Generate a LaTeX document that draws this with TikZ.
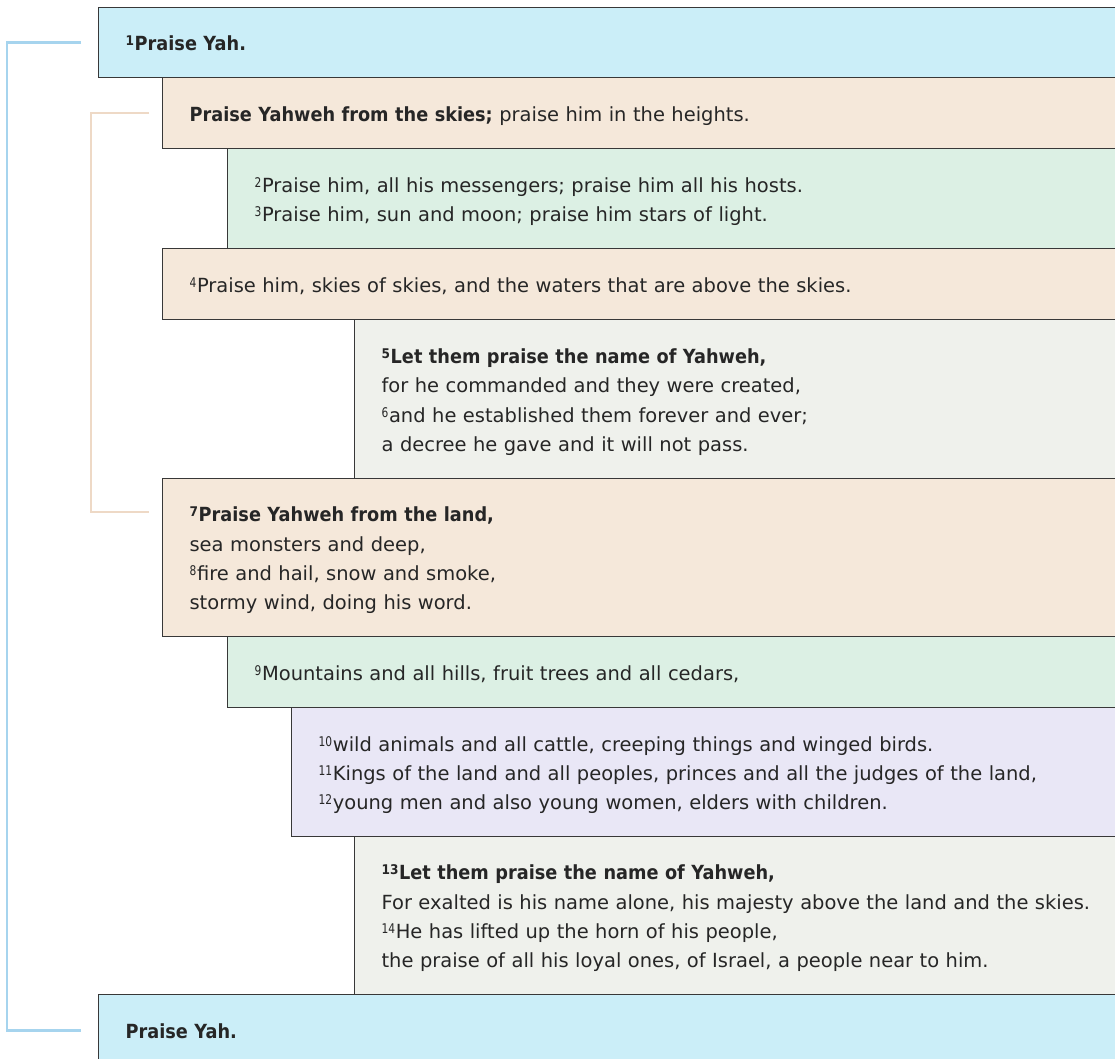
\documentclass[tikz,border=0pt]{standalone}
\usepackage{fontspec}
\setmainfont{DejaVu Sans}[BoldFeatures={FakeStretch=0.91}]
\definecolor{cblue}{HTML}{CBEEF8}
\definecolor{cpeach}{HTML}{F5E8DA}
\definecolor{cgreen}{HTML}{DCF0E4}
\definecolor{cgray}{HTML}{EFF1EC}
\definecolor{cpurple}{HTML}{E9E7F6}
\definecolor{brblue}{HTML}{A6D4EE}
\definecolor{brpeach}{HTML}{EED9C6}
\definecolor{edge}{HTML}{383838}
\definecolor{ink}{HTML}{262626}
\newcommand\vn[1]{\raisebox{3.7pt}{\fontsize{10pt}{10pt}\selectfont\addfontfeature{FakeStretch=0.8}#1}\kern0.5pt}
\newcommand\topstrut{\rule[-6.6pt]{0pt}{25.6pt}}
\begin{document}
\begin{tikzpicture}[x=0.75pt,y=-0.75pt,
  pbox/.style={draw=edge, line width=0.9pt, rectangle, anchor=north west,
    inner xsep=20.25pt, inner ysep=0pt, align=left, text=ink,
    font=\fontsize{14.6pt}{22pt}\selectfont},
  wA/.style={text width=733.5pt},
  wB/.style={text width=685.5pt},
  wC/.style={text width=636.75pt},
  wD/.style={text width=541.5pt},
  wE/.style={text width=588.75pt},
  bracketblue/.style={draw=brblue, line width=2.1pt},
  bracketpeach/.style={draw=brpeach, line width=2.1pt}]
\fill[white] (0,0) rectangle (1115,1059);
\clip (0,0) rectangle (1115,1059);
\node[pbox, wA, fill=cblue, minimum height=52.5pt] (b1) at (98,7)
  {\topstrut\textbf{\vn{1}Praise Yah.}};
\node[pbox, wB, fill=cpeach, minimum height=53.25pt] (b2) at (162,77)
  {\topstrut\textbf{Praise Yahweh from the skies;} praise him in the heights.};
\node[pbox, wC, fill=cgreen, minimum height=75pt] (b3) at (227,148)
  {\topstrut\vn{2}Praise him, all his messengers; praise him all his hosts.\\
   \vn{3}Praise him, sun and moon; praise him stars of light.\strut};
\node[pbox, wB, fill=cpeach, minimum height=53.25pt] (b4) at (162,248)
  {\topstrut\vn{4}Praise him, skies of skies, and the waters that are above the skies.};
\node[pbox, wD, fill=cgray, minimum height=119.25pt] (b5) at (354,319)
  {\topstrut\textbf{\vn{5}Let them praise the name of Yahweh,}\\
   for he commanded and they were created,\\
   \vn{6}and he established them forever and ever;\\
   a decree he gave and it will not pass.\strut};
\node[pbox, wB, fill=cpeach, minimum height=118.5pt] (b7) at (162,478)
  {\topstrut\textbf{\vn{7}Praise Yahweh from the land,}\\
   sea monsters and deep,\\
   \vn{8}fire and hail, snow and smoke,\\
   stormy wind, doing his word.\strut};
\node[pbox, wC, fill=cgreen, minimum height=53.25pt] (b9) at (227,636)
  {\topstrut\vn{9}Mountains and all hills, fruit trees and all cedars,};
\node[pbox, wE, fill=cpurple, minimum height=96.75pt] (b10) at (291,707)
  {\topstrut\vn{10}wild animals and all cattle, creeping things and winged birds.\\
   \vn{11}Kings of the land and all peoples, princes and all the judges of the land,\\
   \vn{12}young men and also young women, elders with children.\strut};
\node[pbox, wD, fill=cgray, minimum height=118.5pt] (b13) at (354,836)
  {\topstrut\textbf{\vn{13}Let them praise the name of Yahweh,}\\
   For exalted is his name alone, his majesty above the land and the skies.\\
   \vn{14}He has lifted up the horn of his people,\\
   the praise of all his loyal ones, of Israel, a people near to him.\strut};
\node[pbox, wA, fill=cblue, minimum height=54pt] (b14) at (98,994)
  {\topstrut\textbf{Praise Yah.}};
\coordinate (b7first) at ([xshift=-9.75pt, yshift=-25.5pt]b7.north west);
\draw[bracketblue] ([xshift=-12.75pt]b1.west) -- ++(-74,0) |- ([xshift=-12.75pt]b14.west);
\draw[bracketpeach] ([xshift=-9.75pt]b2.west) -- ++(-58,0) |- (b7first);
\end{tikzpicture}
\end{document}
